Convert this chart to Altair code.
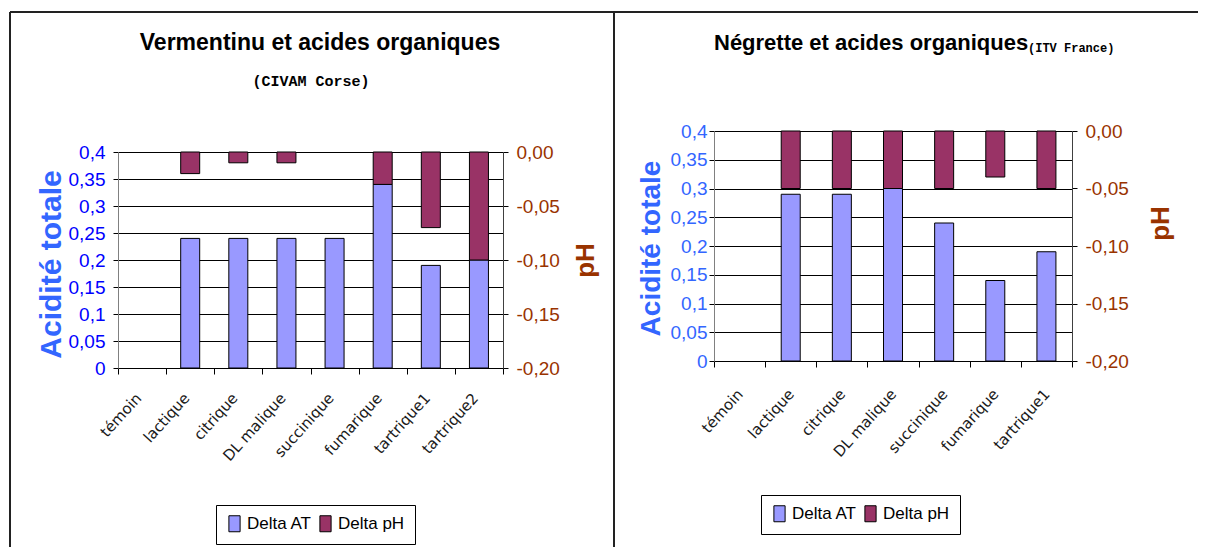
import altair as alt
import pandas as pd

# ---- data ----
cats_v = ["témoin", "lactique", "citrique", "DL malique", "succinique", "fumarique", "tartrique1", "tartrique2"]
at_v = [0, 0.24, 0.24, 0.24, 0.24, 0.34, 0.19, 0.20]
ph_v = [0, -0.02, -0.01, -0.01, 0, -0.03, -0.07, -0.10]

cats_n = ["témoin", "lactique", "citrique", "DL malique", "succinique", "fumarique", "tartrique1"]
at_n = [0, 0.29, 0.29, 0.30, 0.24, 0.14, 0.19]
ph_n = [0, -0.05, -0.05, -0.05, -0.05, -0.04, -0.05]

at_ticks = [0, 0.05, 0.1, 0.15, 0.2, 0.25, 0.3, 0.35, 0.4]
ph_ticks = [0, -0.05, -0.1, -0.15, -0.2]
series = ["Delta AT", "Delta pH"]
series_colors = ["#9999FF", "#993366"]

SANS = "Liberation Sans, Arial, sans-serif"
MONO = "Liberation Mono, Courier New, monospace"


def deco_rule(x, y, x2=None, y2=None, width=2, color="#222222"):
    enc = dict(x=alt.value(x), y=alt.value(y))
    if x2 is not None:
        enc["x2"] = alt.value(x2)
    if y2 is not None:
        enc["y2"] = alt.value(y2)
    return alt.Chart(pd.DataFrame({"k": [0]})).mark_rule(color=color, strokeWidth=width).encode(**enc)


def deco_text(txt, x, y, font, size, weight="normal", align="center", baseline="middle", color="black"):
    return alt.Chart(pd.DataFrame({"t": [txt]})).mark_text(
        font=font, fontSize=size, fontWeight=weight, align=align, baseline=baseline, color=color
    ).encode(text="t:N", x=alt.value(x), y=alt.value(y))


def panel(cats, at, ph, rng, left_lab_color, left_lab_pad, at_title_size, at_title_x, at_title_y,
          ph_title_x, ph_title_y, x_lab_pad, x_lab_off, legend_x, legend_y):
    df = pd.DataFrame({"cat": cats, "at": at, "ph": ph})
    color_scale = alt.Scale(domain=series, range=series_colors)
    xscale = alt.Scale(domain=cats, paddingInner=0, paddingOuter=0)
    xenc = alt.X(
        "cat:N", sort=cats, scale=xscale,
        axis=alt.Axis(
            title=None, labelAngle=-48, labelAlign="right", labelBaseline="middle",
            labelFont="DejaVu Sans", labelFontSize=15, labelColor="#1a1a1a",
            labelPadding=x_lab_pad, labelOffset=x_lab_off,
            tickBand="extent", tickSize=6, tickColor="black", domainColor="black",
            grid=False,
        ),
    )
    legend = alt.Legend(
        title=None, orient="none", legendX=legend_x, legendY=legend_y, direction="horizontal",
        strokeColor="black", fillColor="white", padding=10,
        labelFont=SANS, labelFontSize=17, labelColor="black", labelOffset=4,
        columnPadding=5,
        symbolType="M-0.7,-1H0.7V1H-0.7Z", symbolSize=256,
        symbolStrokeColor="black", symbolStrokeWidth=1,
    )
    at_bars = alt.Chart(df).transform_filter("datum.at != 0").transform_calculate(
        serie="'" + series[0] + "'"
    ).mark_bar(size=19, stroke="black", strokeWidth=1).encode(
        x=xenc,
        y=alt.Y(
            "at:Q",
            scale=alt.Scale(domain=[0, 0.4], range=rng, nice=False),
            axis=alt.Axis(
                orient="left", values=at_ticks,
                labelExpr="replace(format(datum.value, '~g'), '.', ',')",
                grid=True, gridColor="black", gridWidth=1, gridOpacity=1,
                domainColor="#808080", tickColor="black", tickSize=5,
                labelColor=left_lab_color, labelFont=SANS, labelFontSize=19, labelPadding=left_lab_pad,
                title="Acidité totale", titleColor="#3366FF", titleFont=SANS,
                titleFontSize=at_title_size, titleFontWeight="bold",
                titleAngle=270, titleX=at_title_x, titleY=at_title_y,
                titleAlign="center", titleBaseline="middle",
            ),
        ),
        color=alt.Color("serie:N", scale=color_scale, legend=legend),
    )
    ph_bars = alt.Chart(df).transform_filter("datum.ph != 0").transform_calculate(
        serie="'" + series[1] + "'"
    ).mark_bar(size=19, stroke="black", strokeWidth=1).encode(
        x=alt.X("cat:N", sort=cats, scale=xscale),
        y=alt.Y(
            "ph:Q",
            scale=alt.Scale(domain=[-0.2, 0], range=rng, nice=False),
            axis=alt.Axis(
                orient="right", values=ph_ticks,
                labelExpr="replace(replace(format(datum.value, '.2f'), '.', ','), '\u2212', '-')",
                grid=False, domainColor="#404040", tickColor="black", tickSize=5,
                labelColor="#993300", labelFont=SANS, labelFontSize=19, labelPadding=8,
                title="pH", titleColor="#993300", titleFont=SANS, titleFontSize=26,
                titleFontWeight="bold", titleAngle=270, titleX=ph_title_x, titleY=ph_title_y,
                titleAlign="center", titleBaseline="middle",
            ),
        ),
        color=alt.Color("serie:N", scale=color_scale, legend=legend),
    )
    return alt.layer(at_bars, ph_bars).resolve_scale(y="independent")


# ---- left panel (plot area page x 118..503, y 152..368; origin at y=131) ----
lw, lh = 385, 237
left_bars = panel(
    cats_v, at_v, ph_v, [237, 21], "#0000FF", 8, 30, -67, 133, 82, 129, 21, -4, 98, 374
)
left = alt.layer(
    left_bars,
    deco_rule(-108, -119, y2=416),
    deco_rule(-108, -119, x2=496),
    deco_text("Vermentinu et acides organiques", 202, -88, SANS, 23, weight="bold"),
    deco_text("(CIVAM Corse)", 193, -50, MONO, 15, weight="bold"),
).properties(width=lw, height=lh)

# ---- right panel (plot area page x 714..1072, y 131..361) ----
rw, rh = 358, 230
right_bars = panel(
    cats_n, at_n, ph_n, [230, 0], "#3366FF", 2, 28, -63, 117, 88, 92, 24, 0, 47, 364
)
right = alt.layer(
    right_bars,
    deco_rule(-100, -119, y2=416),
    deco_rule(-100, -119, x2=484),
    deco_text("Négrette et acides organiques", 0, -88, SANS, 22, weight="bold", align="left"),
    deco_text("(ITV France)", 314, -83, MONO, 12, weight="bold", align="left"),
).properties(width=rw, height=rh)

chart = alt.hconcat(left, right, spacing=-2).resolve_scale(color="independent").properties(
    padding={"left": 1, "top": 3, "right": 0, "bottom": 0},
    background="white",
).configure_view(stroke=None)

chart.save("out.html", embed_options={"renderer": "svg", "actions": False})
